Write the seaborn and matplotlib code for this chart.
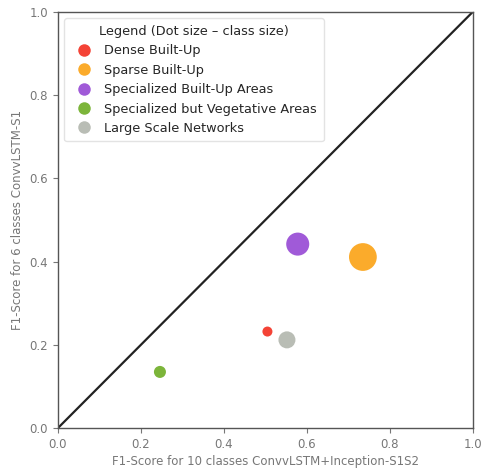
import pandas as pd
import numpy as np
import matplotlib
matplotlib.use("Agg")
import matplotlib.pyplot as plt
from matplotlib.lines import Line2D
import seaborn as sns

# ===============================
# Data
# ===============================
classes = ["Dense Built-Up", "Sparse Built-Up", "Specialized Built-Up Areas",
           "Specialized but Vegetative Areas", "Large Scale Networks"]
f1_10_classes = [0.505, 0.735, 0.578, 0.246, 0.552]
f1_6_classes = [0.232, 0.411, 0.442, 0.135, 0.212]
class_size = [52, 400, 275, 75, 150]
colors = ["#f44336", "#fbab2b", "#a05ad8", "#7cb53a", "#b9bdb5"]

df = pd.DataFrame({
    "cls": classes,
    "x": f1_10_classes,
    "y": f1_6_classes,
    "size": class_size,
})

# ===============================
# Plot
# ===============================
sns.set_style("white")
plt.rcParams['font.family'] = ['DejaVu Sans']

fig = plt.figure(figsize=(4.86, 4.71), dpi=100)
ax = fig.add_axes([0.119, 0.091, 0.854, 0.884])

ax.plot([0, 1], [0, 1], color="#222222", lw=1.6, zorder=1)

sns.scatterplot(
    data=df, x="x", y="y", hue="cls", size="size",
    palette=dict(zip(classes, colors)),
    sizes=(min(class_size), max(class_size)),
    legend=False, edgecolor="none", ax=ax, zorder=3
)

ax.set_xlim(0, 1)
ax.set_ylim(0, 1)
ax.set_xticks(np.arange(0, 1.01, 0.2))
ax.set_yticks(np.arange(0, 1.01, 0.2))
ax.tick_params(axis="both", colors="#777777", labelsize=8.5, length=3.5,
               direction="out", bottom=True, left=True)
ax.set_xlabel("F1-Score for 10 classes ConvvLSTM+Inception-S1S2",
              color="#777777", fontsize=8.5, labelpad=3)
ax.set_ylabel("F1-Score for 6 classes ConvvLSTM-S1",
              color="#777777", fontsize=8.5)
for s in ax.spines.values():
    s.set_color("#555555")
    s.set_linewidth(1.0)

handles = [Line2D([0], [0], marker="o", color="w", markerfacecolor=c,
                  markeredgecolor="none", markersize=9, label=l)
           for l, c in zip(classes, colors)]
leg = ax.legend(handles=handles, title="Legend (Dot size \u2013 class size)",
                loc="upper left", fontsize=9.3, title_fontsize=9.3,
                frameon=True, handletextpad=0.6, borderpad=0.5,
                labelspacing=0.5)
leg.get_frame().set_edgecolor("#dddddd")

fig.savefig("out.png", dpi=100)
